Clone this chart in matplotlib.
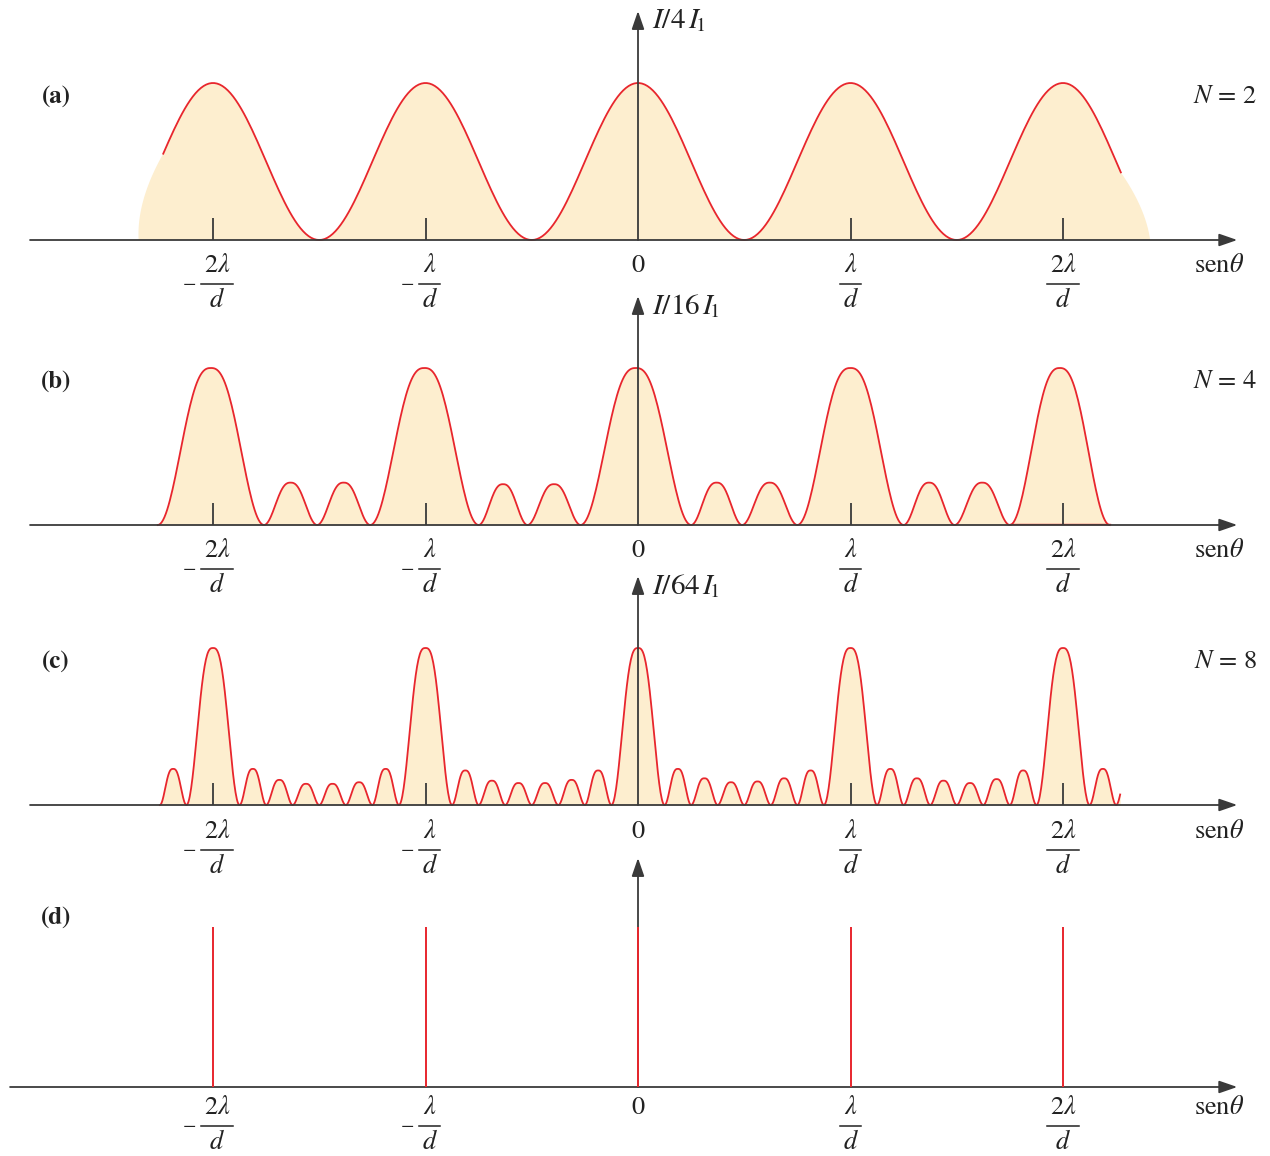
import numpy as np
import matplotlib
matplotlib.use("Agg")
import matplotlib.pyplot as plt
from matplotlib.patches import FancyArrowPatch

plt.rcParams['font.family'] = 'STIXGeneral'
plt.rcParams['mathtext.fontset'] = 'stix'

# x in units of lambda/d, heights relative to the principal maximum
# every lobe runs between two neighbouring zeros
zeros_a = [-2.5, -1.5, -0.5, 0.5, 1.5, 2.5]
heights_a = [1.0, 1.0, 1.0, 1.0, 1.0]
line_range_a = (-2.24, 2.28)
fill_range_a = (-2.35, 2.41)

zeros_b = [-2.26, -1.76, -1.51, -1.26, -0.75, -0.52, -0.27, 0.25, 0.49, 0.75,
           1.25, 1.49, 1.75, 2.22]
heights_b = [1.0, 0.27, 0.27, 1.0, 0.26, 0.26, 1.0, 0.27, 0.27, 1.0, 0.27, 0.27, 1.0]

zeros_c = [-2.25, -2.125, -1.875, -1.75, -1.625, -1.5, -1.375, -1.25, -1.125,
           -0.875, -0.75, -0.625, -0.5, -0.375, -0.25, -0.125, 0.125, 0.25,
           0.375, 0.5, 0.625, 0.75, 0.875, 1.125, 1.25, 1.375, 1.5, 1.625,
           1.75, 1.875, 2.125, 2.25, 2.375]
heights_c = [0.23, 1.0, 0.23, 0.16, 0.135, 0.135, 0.145, 0.23,
             1.0, 0.22, 0.155, 0.14, 0.14, 0.16, 0.22,
             1.0, 0.23, 0.17, 0.145, 0.15, 0.17, 0.22,
             1.0, 0.23, 0.17, 0.155, 0.14, 0.165, 0.22,
             1.0, 0.23, 0.23]
line_range_c = (-2.25, 2.27)

spikes_d = [-2, -1, 0, 1, 2]
spike_height_d = 1.02

tick_pos = [-2, -1, 1, 2]
tick_num = [r'$2\lambda$', r'$\lambda$', r'$\lambda$', r'$2\lambda$']
panel_tags = ['(a)', '(b)', '(c)', '(d)']
n_labels = [r'$N$ = 2', r'$N$ = 4', r'$N$ = 8', None]
y_labels = [r'$I/4\,I_{\!1}$', r'$I/16\,I_{\!1}$', r'$I/64\,I_{\!1}$', None]

RED = '#e8262d'
FILL = '#fdeecf'
AX = '#3a3a3a'
TXT = '#222222'

W, H = 1270, 1156
X0 = 638        # pixel column of sin(theta) = 0
SX = 212.5      # pixels per lambda/d
SY = 157.0      # pixels per unit of intensity
baselines = [240, 525, 805, 1087]
drops = [26, 26, 27, 21]


def lobes(zeros, heights, lo, hi, k=1.0, n=80):
    # k > 1 gives a fuller, flatter-topped lobe
    xs, ys = [], []
    for a, b, h in zip(zeros[:-1], zeros[1:], heights):
        t = np.linspace(0, 1, n)
        f = np.sin(np.pi * t) ** 2
        xs.append(a + (b - a) * t)
        ys.append(h * (1 - (1 - f) ** k))
    x = np.concatenate(xs)
    y = np.concatenate(ys)
    keep = (x >= lo) & (x <= hi)
    return x[keep], y[keep]


def bezier(p0, p1, p2, n=40):
    t = np.linspace(0, 1, n)[:, None]
    pts = (1 - t) ** 2 * np.array(p0) + 2 * (1 - t) * t * np.array(p1) + t ** 2 * np.array(p2)
    return pts[:, 0], pts[:, 1]


def arrow(ax, a, b):
    ax.add_patch(FancyArrowPatch(a, b, arrowstyle='-|>,head_length=1.1,head_width=0.38',
                                 mutation_scale=10, color=AX, lw=1.3,
                                 shrinkA=0, shrinkB=0, zorder=3))


fig = plt.figure(figsize=(W / 100, H / 100), dpi=100)
axes = []
for base in baselines:
    ax = fig.add_axes([0, 0, 1, 1])
    ax.set_xlim(-X0 / SX, (W - X0) / SX)
    ax.set_ylim(-(H - base) / SY, base / SY)
    ax.axis('off')
    axes.append(ax)

# (a) N = 2
ax = axes[0]
x, y = lobes(zeros_a, heights_a, *line_range_a)
lx, ly = bezier((fill_range_a[0], 0), (-2.36, 0.25), (x[0], y[0]))
rx, ry = bezier((x[-1], y[-1]), (2.39, 0.2), (fill_range_a[1], 0))
ax.fill(np.concatenate([lx, x, rx]), np.concatenate([ly, y, ry]), color=FILL, lw=0, zorder=1)
ax.plot(x, y, color=RED, lw=1.3, zorder=2)

# (b) N = 4
ax = axes[1]
x, y = lobes(zeros_b, heights_b, zeros_b[0], zeros_b[-1], k=1.3)
ax.fill_between(x, 0, y, color=FILL, lw=0, zorder=1)
ax.plot(x, y, color=RED, lw=1.3, zorder=2)
ax.plot([zeros_b[-2], zeros_b[-1]], [0.004, 0.004], color=RED, lw=1.0, zorder=2)

# (c) N = 8
ax = axes[2]
x, y = lobes(zeros_c, heights_c, *line_range_c, k=1.45)
ax.fill_between(x, 0, y, color=FILL, lw=0, zorder=1)
ax.plot(x, y, color=RED, lw=1.3, zorder=2)

# (d) N -> infinity
ax = axes[3]
ax.vlines(spikes_d, 0, spike_height_d, color=RED, lw=1.4, zorder=4)

# axes, ticks and labels
for i, ax in enumerate(axes):
    left = -2.955 if i == 3 else -2.861
    arrow(ax, (left, 0), (2.82, 0))
    arrow(ax, (0, 0), (0, 229 / SY))
    if i < 3:
        ax.vlines(tick_pos, 0, 22 / SY, color=AX, lw=1.3, zorder=3)

    d = drops[i]
    for u, num in zip(tick_pos, tick_num):
        neg = u < 0
        cx = u + (4 / SX if neg else 0)
        w = 32 if '2' in num else 21
        ax.text(cx, -d / SY, num, ha='center', va='center', fontsize=19, color=TXT)
        ax.plot([cx - w / 2 / SX, cx + w / 2 / SX], [-(d + 18) / SY] * 2, color=TXT, lw=1.1)
        ax.text(cx, -(d + 35) / SY, r'$d$', ha='center', va='center', fontsize=19, color=TXT)
        if neg:
            ax.text(cx - (w / 2 + 12) / SX, -(d + 18) / SY, '\u2212', ha='center', va='center',
                    fontsize=14, color=TXT)
    ax.text(0, -d / SY, '0', ha='center', va='center', fontsize=19, color=TXT)
    ax.text((1219 - X0) / SX, -d / SY, r'sen$\theta$', ha='center', va='center',
            fontsize=19, color=TXT)

    tag_up = 169 if i == 3 else 143
    ax.text((56 - X0) / SX, tag_up / SY, panel_tags[i], ha='center', va='center',
            fontsize=18, fontweight='bold', color=TXT)
    if n_labels[i]:
        ax.text((1257 - X0) / SX, 143 / SY, n_labels[i], ha='right', va='center',
                fontsize=19, color=TXT)
    if y_labels[i]:
        ax.text((652 - X0) / SX, 219 / SY, y_labels[i], ha='left', va='center',
                fontsize=21, color=TXT)

fig.savefig('out.png', dpi=100)
